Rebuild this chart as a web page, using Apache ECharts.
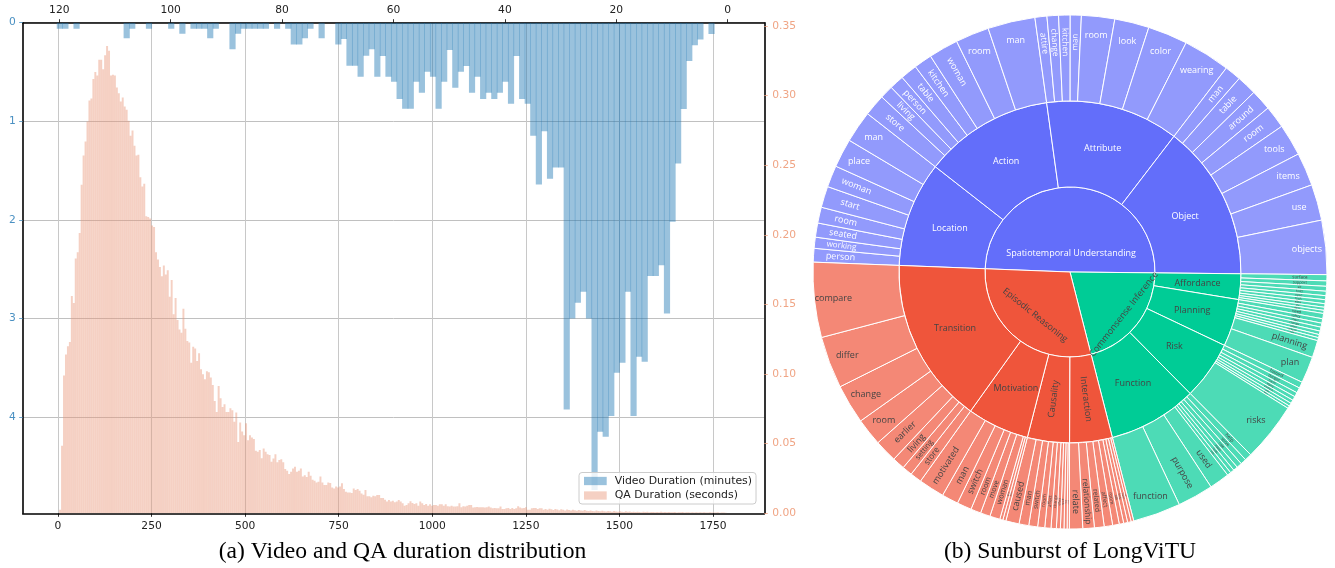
<!DOCTYPE html>
<html>
<head>
<meta charset="utf-8">
<script src="https://cdn.jsdelivr.net/npm/echarts@6/dist/echarts.min.js"></script>
<style>
  html, body { margin: 0; padding: 0; background: #ffffff; }
  #chart { width: 1335px; height: 568px; }
</style>
</head>
<body>
<div id="chart"></div>
<script>
// ---------------- (a) Video / QA duration histograms ----------------
// Video durations: 1-minute bins, density per bin (left axis, hanging from the top).
const VIDEO_BIN_START = 2.455;   // minutes, left edge of the first bin
const VIDEO_BIN_WIDTH = 1;       // minutes
const VIDEO_DENSITY = [
  0.115, 0, 0.17, 0.23, 0.389, 0.876, 1.428, 2.02, 2.95, 2.46,
  2.57, 2.57, 3.44, 3.39, 3.99, 2.73, 3.45, 3.55, 3.99, 4.20,
  4.15, 4.74, 3.0, 2.73, 2.84, 3.0, 3.925, 1.47, 1.47, 1.584,
  1.10, 1.641, 1.147, 0.822, 0.775, 0.338, 0.822, 0.599, 0.711, 0.775,
  0.711, 0.775, 0.548, 0.711, 0.44, 0.497, 0.66, 0.277, 0.599, 0.873,
  0.548, 0.497, 0.711, 0.599, 0.873, 0.873, 0.775, 0.599, 0.548, 0.338,
  0.548, 0.27, 0.335, 0.548, 0.437, 0.437, 0.165, 0.22, 0, 0,
  0.159, 0, 0.061, 0.159, 0.22, 0.22, 0.061, 0, 0.061, 0,
  0.061, 0.061, 0.061, 0.061, 0.061, 0.111, 0.27, 0, 0, 0.061,
  0.159, 0.061, 0.061, 0.061, 0, 0.111, 0, 0.061, 0, 0,
  0, 0.061, 0, 0, 0.061, 0.159, 0, 0, 0, 0,
  0, 0, 0, 0, 0.061, 0, 0.061, 0.061
];

// QA durations: seconds, density per bin (right axis, standing on the bottom).
const QA_BIN_START = 3;      // seconds
const QA_BIN_WIDTH = 5.23;   // seconds
const QA_DENSITY = [
  0.0026, 0.0485, 0.099, 0.114, 0.120, 0.123, 0.156, 0.151, 0.183, 0.1875,
  0.2014, 0.236, 0.257, 0.267, 0.2815, 0.2965, 0.298, 0.312, 0.317, 0.3145,
  0.3257, 0.3257, 0.319, 0.329, 0.3357, 0.3323, 0.3145, 0.315, 0.3145, 0.3058,
  0.3018, 0.2958, 0.2986, 0.2922, 0.2898, 0.282, 0.2712, 0.275, 0.264, 0.257,
  0.2575, 0.2413, 0.2348, 0.2367, 0.2133, 0.2128, 0.2117, 0.2067, 0.2057, 0.1875,
  0.1823, 0.177, 0.1703, 0.178, 0.1715, 0.1746, 0.1555, 0.1675, 0.1429, 0.1546,
  0.1388, 0.1321, 0.1297, 0.147, 0.1326, 0.1237, 0.1226, 0.1082, 0.1197, 0.1183,
  0.1094, 0.1149, 0.1034, 0.0999, 0.0963, 0.102, 0.1013, 0.0975, 0.0922, 0.0807,
  0.0728, 0.0915, 0.0827, 0.0764, 0.0783, 0.0728, 0.0728, 0.0754,
  0.074, 0.0657, 0.0724, 0.0513, 0.0652, 0.0588, 0.0561, 0.0647, 0.0525, 0.0561,
  0.0545, 0.0533, 0.0449, 0.0442, 0.0454, 0.0396, 0.0466, 0.0442, 0.0425, 0.0418,
  0.037, 0.0394, 0.0425, 0.0366, 0.0382, 0.0389, 0.0366, 0.0318, 0.0305, 0.0282,
  0.0298, 0.0322, 0.0334, 0.0298, 0.0305, 0.0322, 0.0265, 0.0274, 0.026, 0.0298,
  0.027, 0.0241, 0.0234, 0.0222, 0.0227, 0.0265, 0.0222, 0.0203, 0.0203, 0.0222,
  0.0218, 0.0186, 0.0179, 0.0193, 0.0186, 0.0193, 0.0215, 0.0174, 0.0155, 0.015,
  0.015, 0.0146, 0.0179, 0.0167, 0.0174, 0.0162, 0.0143, 0.0134, 0.0167, 0.0122,
  0.0122, 0.0115, 0.0126, 0.0122, 0.0131, 0.0131, 0.011, 0.011, 0.0098, 0.0084,
  0.0096, 0.0084, 0.0091, 0.0079, 0.0084, 0.0096, 0.0084, 0.0072, 0.0055, 0.006,
  0.0072, 0.0086, 0.0074, 0.0067, 0.0072, 0.0055, 0.0084, 0.0072, 0.006, 0.0067,
  0.0055, 0.0065, 0.0055, 0.006, 0.006, 0.0055, 0.0065, 0.0065, 0.0055, 0.0065,
  0.005, 0.0048, 0.0055, 0.0048, 0.0048, 0.005, 0.0072, 0.0043, 0.005, 0.0048,
  0.0055, 0.006, 0.006, 0.0041, 0.0043, 0.0046, 0.0043, 0.0043, 0.0043, 0.0041,
  0.0043, 0.0048, 0.0041, 0.0036, 0.0038, 0.0036, 0.0036, 0.0048, 0.0031, 0.0031,
  0.0036, 0.0038, 0.0031, 0.0038, 0.0031, 0.0036, 0.005, 0.0041, 0.0036, 0.0038,
  0.0043, 0.0026, 0.0026, 0.0036, 0.0038, 0.0038, 0.0031, 0.0036, 0.0036, 0.0026,
  0.0031, 0.0026, 0.0033, 0.0029, 0.0024, 0.0031, 0.0027, 0.0022, 0.0029, 0.0025,
  0.0021, 0.0028, 0.0024, 0.002, 0.0026, 0.0022, 0.0019, 0.0024, 0.002,
  0.0018, 0.0023, 0.0019, 0.0016, 0.0021, 0.0017, 0.0015, 0.002, 0.0016, 0.0014,
  0.0018, 0.0015, 0.0013, 0.0017, 0.0014, 0.0012, 0.0016, 0.0013, 0.0011,
  0.0015, 0.0012, 0.001, 0.0014, 0.0011, 0.0013, 0.001, 0.0012, 0.0009, 0.0012,
  0.001, 0.0008, 0.0011, 0.0009, 0.0012, 0.0008, 0.001, 0.0009, 0.0007,
  0.001, 0.0008, 0.0011, 0.0007, 0.0009, 0.0008, 0.001, 0.0007, 0.0008, 0.0009,
  0.0006, 0.0008, 0.0007, 0.0009, 0.0006, 0.0008, 0.0007, 0.0006, 0.0008,
  0.0006, 0.0007, 0.0005, 0.0007, 0.0006, 0.0008, 0.0005, 0.0006, 0.0007, 0.0005,
  0.0006, 0.0005, 0.0007, 0.0004, 0.0006, 0.0005, 0.0004
];

const MINUTE_TICKS = [0, 20, 40, 60, 80, 100, 120];
const SECOND_TICKS = [0, 250, 500, 750, 1000, 1250, 1500, 1750];
const VIDEO_TICKS = [0, 1, 2, 3, 4];
const QA_TICKS = [0, 0.05, 0.10, 0.15, 0.20, 0.25, 0.30, 0.35];

const VIDEO_NAME = 'Video Duration (minutes)';
const QA_NAME = 'QA Duration (seconds)';

// ---------------- (b) Sunburst of LongViTU ----------------
// Leaf shares are listed clockwise inside each sub-category.
const LOCATION_WORDS = ['person', 'working', 'seated', 'room', 'start', 'woman', 'place', 'man'];
const LOCATION_SHARE = [3.1, 2.5, 3.2, 3.6, 4.8, 4.9, 6.5, 7.2];
const ACTION_WORDS = ['store', 'living', 'person', 'table', 'kitchen', 'woman', 'room', 'man'];
const ACTION_SHARE = [4.9, 3.0, 3.3, 3.8, 4.1, 6.7, 7.6, 10.7];
const ATTRIBUTE_WORDS = ['attire', 'change', 'kitchen', 'man', 'room', 'look', 'color', 'wearing'];
const ATTRIBUTE_SHARE = [2.7, 2.6, 2.6, 2.5, 7.5, 7.8, 9.0, 10.6];
const OBJECT_WORDS = ['man', 'table', 'around', 'room', 'tools', 'items', 'use', 'objects'];
const OBJECT_SHARE = [3.7, 4.5, 4.7, 5.1, 7.2, 7.5, 8.15, 12.25];

const AFFORDANCE_WORDS = ['surface', 'support', 'sit', 'hold', 'open', 'tools', 'allow', 'use', 'object'];
const AFFORDANCE_SHARE = [1.4, 1.2, 1.1, 1.0, 0.9, 0.9, 0.8, 0.7, 0.7];
const PLANNING_WORDS = ['need', 'safety', 'steps', 'change', 'room', 'prepare', 'man', 'planning', 'plan'];
const PLANNING_SHARE = [1.2, 1.0, 0.9, 0.9, 0.8, 0.7, 0.7, 3.9, 6.0];
const RISK_WORDS = ['hazard', 'danger', 'harm', 'injury', 'cautious', 'safe', 'face', 'risks'];
const RISK_SHARE = [1.4, 1.2, 1.0, 0.9, 0.8, 0.7, 0.6, 13.3];
const FUNCTION_WORDS = ['help', 'serve', 'role', 'room', 'tools', 'use', 'used', 'purpose', 'function'];
const FUNCTION_SHARE = [1.6, 1.3, 1.2, 1.0, 0.9, 0.85, 4.55, 8.1, 10.8];

const INTERACTION_WORDS = ['man', 'hand', 'help', 'talk', 'room', 'affect', 'related', 'relationship', 'relate'];
const INTERACTION_SHARE = [0.6, 0.8, 0.9, 1.0, 1.5, 1.9, 2.2, 2.6, 3.0];
const CAUSALITY_WORDS = ['cause', 'led', 'result', 'effect', 'change', 'affect', 'room', 'switch', 'man', 'caused'];
const CAUSALITY_SHARE = [0.5, 0.7, 0.8, 0.9, 1.2, 1.4, 1.6, 2.0, 2.2, 3.0];
const MOTIVATION_WORDS = ['aim', 'goal', 'woman', 'move', 'room', 'switch', 'man', 'motivated'];
const MOTIVATION_SHARE = [0.7, 0.7, 2.3, 2.2, 2.3, 3.3, 3.75, 5.85];
const TRANSITION_WORDS = ['store', 'setting', 'living', 'earlier', 'room', 'change', 'differ', 'compare'];
const TRANSITION_SHARE = [2.6, 2.3, 2.8, 5.1, 6.2, 8.9, 11.75, 16.95];

const TASKS = [
  { name: 'Spatiotemporal Understanding', color: '#636efa', ink: '#ffffff', groups: [
    ['Location', LOCATION_WORDS, LOCATION_SHARE],
    ['Action', ACTION_WORDS, ACTION_SHARE],
    ['Attribute', ATTRIBUTE_WORDS, ATTRIBUTE_SHARE],
    ['Object', OBJECT_WORDS, OBJECT_SHARE]
  ] },
  { name: 'Commonsense Inference', color: '#00cc96', ink: '#444444', groups: [
    ['Affordance', AFFORDANCE_WORDS, AFFORDANCE_SHARE],
    ['Planning', PLANNING_WORDS, PLANNING_SHARE],
    ['Risk', RISK_WORDS, RISK_SHARE],
    ['Function', FUNCTION_WORDS, FUNCTION_SHARE]
  ] },
  { name: 'Episodic Reasoning', color: '#ef553b', ink: '#444444', groups: [
    ['Interaction', INTERACTION_WORDS, INTERACTION_SHARE],
    ['Causality', CAUSALITY_WORDS, CAUSALITY_SHARE],
    ['Motivation', MOTIVATION_WORDS, MOTIVATION_SHARE],
    ['Transition', TRANSITION_WORDS, TRANSITION_SHARE]
  ] }
];

// ---------------- helpers ----------------
const SUN_START = 177.8;       // degrees, first sector edge
const SUN_FONT = '"Open Sans", "Liberation Sans", sans-serif';
const RADIAL_LEAVES = ['Action/woman', 'Function/purpose'];
const RADIAL_GROUPS = ['Causality', 'Interaction'];
// centre-ring labels: rotation and how far the text is pushed along its own "down" direction
const INNER_LABEL = {
  'Spatiotemporal Understanding': { rotate: 0, down: 24 },
  'Commonsense Inference': { rotate: 'tangential', down: 26 },
  'Episodic Reasoning': { rotate: 'tangential', down: 13 }
};

function tint(hex, t) {
  const n = parseInt(hex.slice(1), 16);
  const c = [(n >> 16) & 255, (n >> 8) & 255, n & 255].map(v => Math.round(v + (255 - v) * t));
  return 'rgb(' + c.join(',') + ')';
}

// label whose text is moved by (dx, dy) px in its own (possibly rotated) frame
function movedLabel(name, fontSize, color, rotate, dx, dy) {
  const rich = { t: { fontSize: fontSize, color: color, fontFamily: SUN_FONT } };
  let fmt = '{t|' + name + '}';
  if (Math.abs(dy) > 0.5) {
    const h = 2 * Math.abs(dy);
    rich.p = { fontSize: 1, height: h, lineHeight: h };
    fmt = dy > 0 ? '{p| }\n' + fmt : fmt + '\n{p| }';
  }
  return {
    rotate: rotate,
    formatter: fmt,
    rich: rich,
    padding: [0, Math.max(0, -2 * dx), 0, Math.max(0, 2 * dx)]
  };
}

function buildSunburst() {
  let total = 0;
  TASKS.forEach(t => t.groups.forEach(g => g[2].forEach(v => { total += v; })));
  const degPer = 360 / total;
  let angle = SUN_START;
  return TASKS.map(task => {
    const leafColor = tint(task.color, 0.3);
    const children = task.groups.map(([gname, words, shares]) => {
      const leaves = words.map((w, i) => {
        const deg = shares[i] * degPer;
        const mid = (angle - deg / 2) * Math.PI / 180;
        angle -= deg;
        const flat = deg >= 6 && RADIAL_LEAVES.indexOf(gname + '/' + w) < 0;
        let label;
        if (flat) {
          const s = 24;
          label = movedLabel(w, 9, task.ink, 0, s * Math.cos(mid), -s * Math.sin(mid));
        } else {
          const s = 16;
          const size = Math.max(1.5, Math.min(9, deg * 3.2));
          // radial text reads outward on the right half and inward on the left half
          label = movedLabel(w, size, task.ink, 'radial', Math.cos(mid) < 0 ? -s : s, 0);
        }
        return { name: w, value: shares[i], itemStyle: { color: leafColor }, label: label };
      });
      return {
        name: gname,
        itemStyle: { color: task.color },
        label: movedLabel(gname, 9, task.ink, RADIAL_GROUPS.indexOf(gname) >= 0 ? 'radial' : 0, 0, 0),
        children: leaves
      };
    });
    const inner = INNER_LABEL[task.name];
    return {
      name: task.name,
      itemStyle: { color: task.color },
      label: movedLabel(task.name, 9, task.ink, inner.rotate, 0, inner.down),
      children: children
    };
  });
}

function binsToData(start, width, values) {
  const out = [];
  values.forEach((v, i) => {
    if (v > 0) out.push([start + i * width, start + (i + 1) * width, v]);
  });
  return out;
}

// histogram bar; `overlap` widens the bar slightly so neighbouring bars leave a darker seam
function histRenderer(overlap) {
  return function (params, api) {
    const a = api.coord([api.value(0), 0]);
    const b = api.coord([api.value(1), api.value(2)]);
    return {
      type: 'rect',
      shape: {
        x: Math.min(a[0], b[0]), y: Math.min(a[1], b[1]),
        width: Math.abs(b[0] - a[0]) + overlap, height: Math.abs(b[1] - a[1])
      },
      style: api.style()
    };
  };
}

const AXIS_FONT = { fontFamily: 'DejaVu Sans', fontSize: 10.7 };
const BLUE_FILL = 'rgba(31,119,180,0.45)';
const SALMON_FILL = 'rgba(233,150,122,0.45)';
const CAPTION_FONT = '23.6px "Liberation Serif"';

const chart = echarts.init(document.getElementById('chart'), null, { renderer: 'canvas' });

const option = {
  animation: false,
  backgroundColor: '#ffffff',
  grid: {
    left: 22.7, top: 22.7, right: 570.7, bottom: 54.7,
    containLabel: false, outerBoundsMode: 'none'
  },
  xAxis: [
    {
      type: 'value', position: 'bottom', min: -94.3, max: 1887.1,
      axisLine: { show: true, onZero: false, lineStyle: { color: '#000', width: 1.6 } },
      axisTick: { show: true, length: 3.5, customValues: SECOND_TICKS, lineStyle: { color: '#000', width: 0.8 } },
      axisLabel: Object.assign({ customValues: SECOND_TICKS, margin: 7, color: '#222', formatter: v => String(v) }, AXIS_FONT),
      splitLine: { show: true, lineStyle: { color: '#c8c8c8', width: 1 } }
    },
    {
      type: 'value', position: 'top', inverse: true, min: -6.57, max: 126.57,
      axisLine: { show: true, onZero: false, lineStyle: { color: '#000', width: 1.6 } },
      axisTick: { show: true, length: 3.5, customValues: MINUTE_TICKS, lineStyle: { color: '#000', width: 0.8 } },
      axisLabel: Object.assign({ customValues: MINUTE_TICKS, margin: 7, color: '#222', formatter: v => String(v) }, AXIS_FONT),
      splitLine: { show: false }
    }
  ],
  yAxis: [
    {
      type: 'value', position: 'left', inverse: true, min: 0, max: 4.977,
      axisLine: { show: true, onZero: false, lineStyle: { color: '#000', width: 1.6 } },
      axisTick: { show: true, length: 3.5, customValues: VIDEO_TICKS, lineStyle: { color: '#4a90c2', width: 0.8 } },
      axisLabel: Object.assign({ customValues: VIDEO_TICKS, margin: 7, color: '#4a90c2' }, AXIS_FONT),
      splitLine: { show: true, lineStyle: { color: '#c0c0c0', width: 1 } }
    },
    {
      type: 'value', position: 'right', min: 0, max: 0.3524,
      axisLine: { show: true, onZero: false, lineStyle: { color: '#000', width: 1.6 } },
      axisTick: { show: true, length: 3.5, customValues: QA_TICKS, lineStyle: { color: '#f0a585', width: 0.8 } },
      axisLabel: Object.assign({
        customValues: QA_TICKS, margin: 8, color: '#f0a585',
        formatter: v => v.toFixed(2)
      }, AXIS_FONT),
      splitLine: { show: false }
    }
  ],
  legend: {
    orient: 'vertical', left: 579, top: 472.5,
    itemWidth: 22.7, itemHeight: 8.3, itemGap: 3.5,
    padding: [3, 4, 3, 5],
    backgroundColor: 'rgba(255,255,255,0.8)',
    borderColor: '#cccccc', borderWidth: 1, borderRadius: 3,
    textStyle: { fontFamily: 'DejaVu Sans', fontSize: 10.9, color: '#222', padding: [0, 0, 0, 3] },
    data: [{ name: VIDEO_NAME, icon: 'rect' }, { name: QA_NAME, icon: 'rect' }]
  },
  series: [
    {
      name: QA_NAME, type: 'custom', xAxisIndex: 0, yAxisIndex: 1,
      renderItem: histRenderer(0), clip: true,
      itemStyle: { color: SALMON_FILL },
      encode: { x: [0, 1], y: 2 },
      data: binsToData(QA_BIN_START, QA_BIN_WIDTH, QA_DENSITY),
      z: 2
    },
    {
      name: VIDEO_NAME, type: 'custom', xAxisIndex: 1, yAxisIndex: 0,
      renderItem: histRenderer(0.6), clip: true,
      itemStyle: { color: BLUE_FILL },
      encode: { x: [0, 1], y: 2 },
      data: binsToData(VIDEO_BIN_START, VIDEO_BIN_WIDTH, VIDEO_DENSITY),
      z: 3
    },
    {
      type: 'sunburst',
      center: [1070, 272],
      startAngle: SUN_START,
      clockwise: true,
      sort: null,
      nodeClick: false,
      emphasis: { disabled: true },
      itemStyle: { borderColor: '#ffffff', borderWidth: 1 },
      label: { fontFamily: SUN_FONT, fontSize: 9 },
      levels: [
        {},
        { r0: 0, r: 85 },
        { r0: 85, r: 171 },
        { r0: 171, r: 257 }
      ],
      data: buildSunburst()
    }
  ],
  graphic: [
    {
      type: 'text', x: 402.5, y: 552,
      style: {
        text: '(a) Video and QA duration distribution',
        font: CAPTION_FONT, fill: '#000',
        align: 'center', verticalAlign: 'middle', textAlign: 'center', textVerticalAlign: 'middle'
      }
    },
    {
      type: 'text', x: 1070, y: 552,
      style: {
        text: '(b) Sunburst of LongViTU',
        font: CAPTION_FONT, fill: '#000',
        align: 'center', verticalAlign: 'middle', textAlign: 'center', textVerticalAlign: 'middle'
      }
    }
  ]
};

chart.setOption(option);
</script>
</body>
</html>
